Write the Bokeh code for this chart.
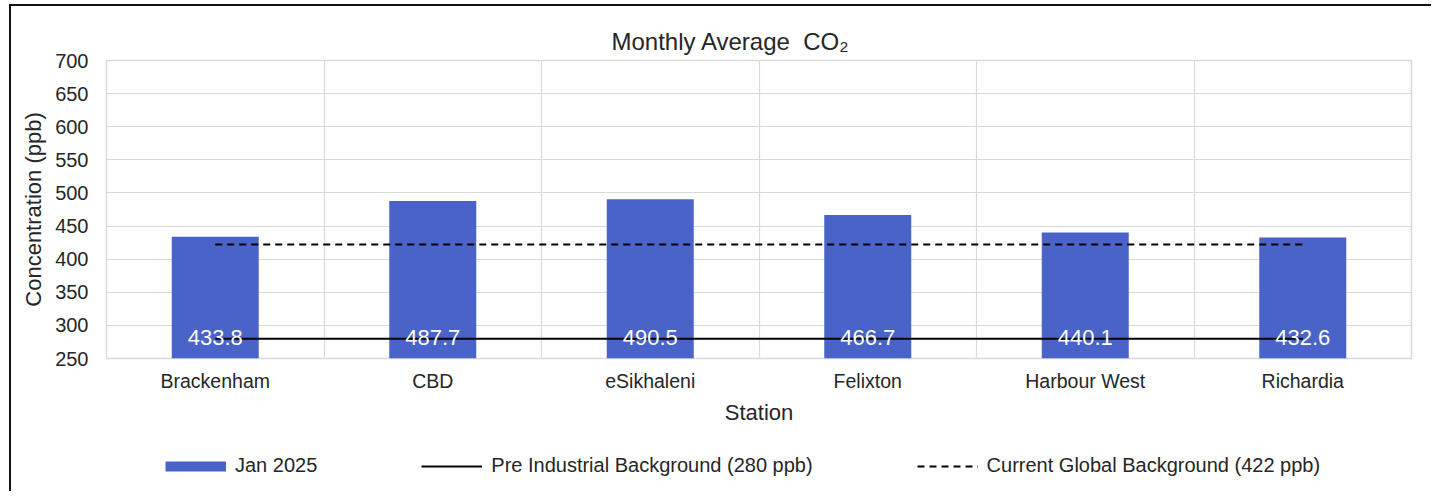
from bokeh.plotting import figure
from bokeh.layouts import column
from bokeh.models import ColumnDataSource, FixedTicker, Range1d, LabelSet, Legend, LegendItem
from bokeh.core.properties import value
from bokeh.embed import file_html
from bokeh.resources import INLINE

# ---- data ----
stations = ["Brackenham", "CBD", "eSikhaleni", "Felixton", "Harbour West", "Richardia"]
jan_2025 = [433.8, 487.7, 490.5, 466.7, 440.1, 432.6]
pre_industrial = 280
current_global = 422
y_ticks = [250, 300, 350, 400, 450, 500, 550, 600, 650, 700]
series_label = "Jan 2025"
pre_label = "Pre Industrial Background (280 ppb)"
cur_label = "Current Global Background (422 ppb)"
title_text = "Monthly Average\u00a0 CO\u2082"
x_title = "Station"
y_title = "Concentration (ppb)"

# ---- style ----
FONT = "Liberation Sans"
TEXT = "#262626"
BAR = "#4A63C8"
GRID = "#D9D9D9"
W = 1431
H_MAIN = 433
H_LEG = 58

n = len(stations)
xs = [i + 0.5 for i in range(n)]
src = ColumnDataSource(dict(
    x=xs, top=jan_2025,
    label=[f"{v:.1f}" for v in jan_2025],
    base=[y_ticks[0]] * n,
))

p = figure(width=W, height=H_MAIN, output_backend="svg", toolbar_location=None,
           x_range=Range1d(0, n), y_range=Range1d(y_ticks[0], y_ticks[-1]),
           min_border_left=106, min_border_right=20, min_border_top=60,
           min_border_bottom=H_MAIN - 358)
p.border_fill_color = None

p.title.text = title_text
p.title.align = "left"
p.title.offset = 505
p.title.text_font = FONT
p.title.text_font_size = "24px"
p.title.text_font_style = "normal"
p.title.text_color = TEXT
p.title.standoff = 11

p.outline_line_color = GRID
p.outline_line_width = 1.5
p.background_fill_color = "white"

# axes
p.xaxis.ticker = FixedTicker(ticks=xs)
p.xaxis.major_label_overrides = {x: s for x, s in zip(xs, stations)}
p.yaxis.ticker = FixedTicker(ticks=y_ticks)
for ax in (p.xaxis[0], p.yaxis[0]):
    ax.axis_line_color = None
    ax.major_tick_line_color = None
    ax.minor_tick_line_color = None
    ax.major_label_text_font = FONT
    ax.major_label_text_color = TEXT
    ax.major_label_text_font_size = "19.5px"
    ax.axis_label_text_font = FONT
    ax.axis_label_text_font_size = "22px"
    ax.axis_label_text_font_style = "normal"
    ax.axis_label_text_color = TEXT
p.yaxis.major_label_text_font_size = "20px"
p.xaxis.axis_label = x_title
p.yaxis.axis_label = y_title
p.xaxis.major_label_standoff = 5
p.xaxis.axis_label_standoff = 5
p.yaxis.major_label_standoff = 12
p.yaxis.axis_label_standoff = 6

# grids
p.xgrid.ticker = FixedTicker(ticks=[i for i in range(1, n)])
p.ygrid.ticker = FixedTicker(ticks=y_ticks)
p.xgrid.grid_line_color = GRID
p.ygrid.grid_line_color = GRID
p.xgrid.grid_line_width = 1.2
p.ygrid.grid_line_width = 1.2

# bars
p.vbar(x="x", top="top", width=0.4, source=src, fill_color=BAR, line_color=None)

# reference lines
PRE_STYLE = dict(line_color="black", line_width=2)
CUR_STYLE = dict(line_color="black", line_width=2, line_dash="7 5")
p.line(x=xs, y=[pre_industrial] * n, **PRE_STYLE)
p.line(x=xs, y=[current_global] * n, **CUR_STYLE)

# data labels
labels = LabelSet(x="x", y="base", text="label", source=src, y_offset=14,
                  text_align="center", text_baseline="alphabetic",
                  text_color="white", text_font=value(FONT), text_font_size="22px")
p.add_layout(labels)

# ---- legend strip (separate figure so that nothing is clipped) ----
lg = figure(width=W, height=H_LEG, output_backend="svg", toolbar_location=None,
            x_range=Range1d(0, 1), y_range=Range1d(0, 1),
            x_axis_type=None, y_axis_type=None, min_border=0)
lg.outline_line_color = None
lg.background_fill_color = None
lg.border_fill_color = None
lg.grid.visible = False
# swatch renderers: their points lie outside the visible range
off_x = [5, 6]
off_y = [5, 5]
r_bar = lg.line(x=off_x, y=off_y, line_color=BAR, line_width=10)
r_pre = lg.line(x=off_x, y=off_y, **PRE_STYLE)
r_cur = lg.line(x=off_x, y=off_y, **CUR_STYLE)

leg = Legend(items=[LegendItem(label=series_label, renderers=[r_bar]),
                    LegendItem(label=pre_label, renderers=[r_pre]),
                    LegendItem(label=cur_label, renderers=[r_cur])],
             location=(59, 14), orientation="horizontal",
             glyph_width=61, glyph_height=20, label_height=20, label_standoff=9,
             padding=0, spacing=104, margin=0, border_line_color=None,
             background_fill_alpha=0, label_text_font=FONT,
             label_text_font_size="20px", label_text_color=TEXT)
lg.add_layout(leg, "center")

layout = column(p, lg, spacing=0)
layout.styles = {
    "background": "linear-gradient(#111111,#111111) 9px 4px / 2px calc(100% - 4px) no-repeat, "
                  "linear-gradient(#111111,#111111) 9px 4px / calc(100% - 9px) 2px no-repeat, "
                  "#ffffff",
}

open("out.html", "w").write(file_html(layout, INLINE))
